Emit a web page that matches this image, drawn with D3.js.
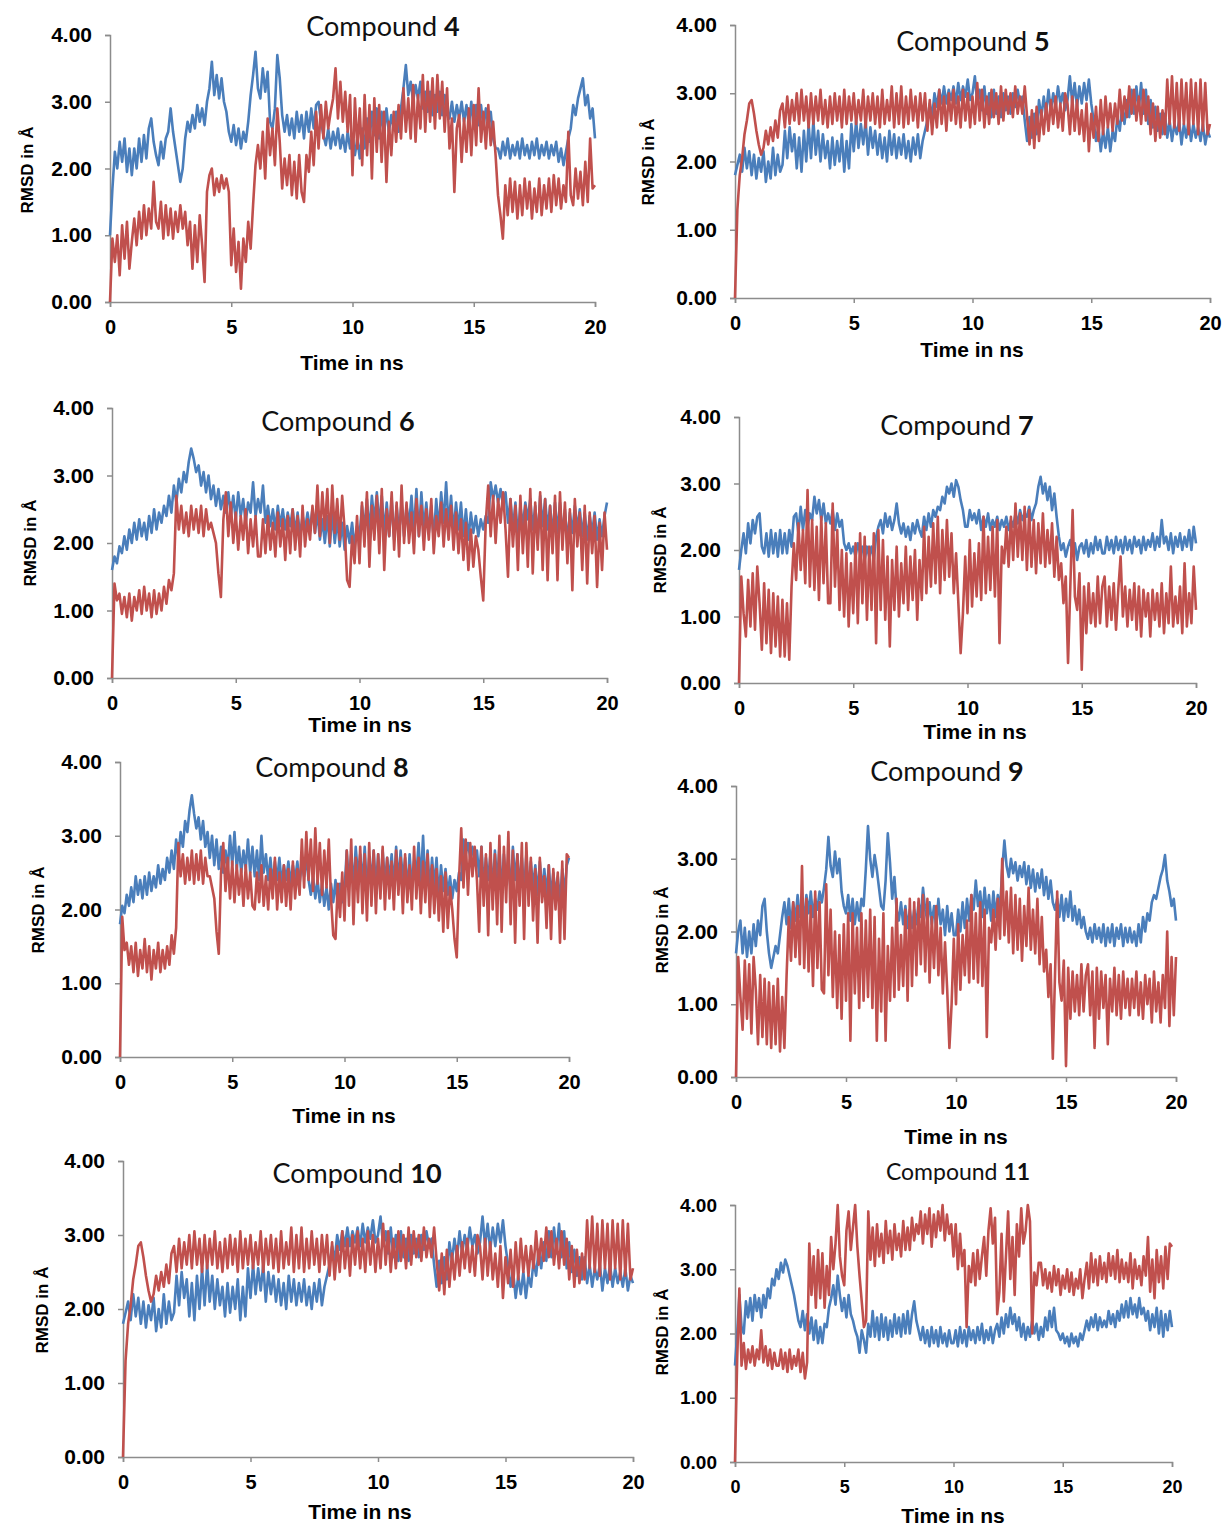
<!DOCTYPE html>
<html>
<head>
<meta charset="utf-8">
<script src="https://cdn.jsdelivr.net/npm/d3@7"></script>
<style>
  body { margin: 0; background: #fff; }
  svg { display: block; }
</style>
</head>
<body>
<svg id="chart" width="1225" height="1525"></svg>
<script>
// RMSD (Å) over 0–20 ns, one value every 0.1 ns (201 samples per trace)
const yTicks = [0, 1, 2, 3, 4];
const xTicks = [0, 5, 10, 15, 20];

const compound4Blue = [
  1.00, 1.70, 2.25, 2.00, 2.40, 2.10, 2.45, 1.95, 2.30, 1.90, 2.30, 2.00, 2.45, 2.10, 2.50, 2.15, 2.60, 2.75, 2.40, 2.20,
  2.05, 2.40, 2.15, 2.45, 2.55, 2.90, 2.55, 2.30, 2.05, 1.80, 2.00, 2.45, 2.70, 2.55, 2.80, 2.60, 2.95, 2.70, 2.90, 2.65,
  3.00, 3.20, 3.60, 3.10, 3.40, 3.05, 3.35, 3.00, 2.85, 2.55, 2.40, 2.65, 2.35, 2.60, 2.30, 2.55, 2.40, 2.70, 3.10, 3.40,
  3.75, 3.20, 3.05, 3.50, 3.15, 3.45, 2.70, 2.60, 2.90, 3.70, 3.35, 2.80, 2.55, 2.80, 2.50, 2.75, 2.45, 2.85, 2.55, 2.80,
  2.45, 2.85, 2.55, 2.90, 2.60, 2.95, 3.00, 2.70, 2.50, 2.35, 2.60, 2.30, 2.55, 2.35, 2.60, 2.30, 2.50, 2.25, 2.55, 2.30,
  2.50, 2.20, 2.45, 2.15, 2.60, 2.30, 2.75, 2.40, 2.85, 2.50, 2.90, 2.45, 2.85, 2.50, 2.90, 2.55, 2.80, 2.60, 2.85, 2.55,
  2.90, 3.20, 3.55, 3.10, 3.30, 3.00, 3.25, 3.05, 3.30, 2.90, 3.15, 2.85, 3.15, 2.80, 3.10, 2.85, 3.15, 2.80, 3.10, 2.85,
  2.75, 3.00, 2.70, 2.95, 2.75, 3.00, 2.70, 2.95, 2.65, 3.00, 2.60, 2.95, 2.65, 2.95, 2.60, 2.90, 2.65, 2.85, 2.45, 2.30,
  2.30, 2.15, 2.40, 2.20, 2.45, 2.15, 2.35, 2.20, 2.40, 2.15, 2.45, 2.20, 2.35, 2.15, 2.40, 2.20, 2.45, 2.15, 2.35, 2.20,
  2.40, 2.15, 2.35, 2.20, 2.40, 2.10, 2.30, 2.05, 2.25, 2.45, 2.60, 2.95, 2.80, 3.05, 3.20, 3.35, 2.95, 3.10, 2.75, 2.90,
  2.45
];
const compound4Red = [
  0.00, 0.95, 0.60, 1.00, 0.40, 1.15, 0.65, 1.20, 0.50, 0.90, 1.25, 0.85, 1.35, 0.95, 1.45, 1.00, 1.40, 1.10, 1.80, 1.20,
  1.10, 1.50, 0.95, 1.45, 1.00, 1.40, 0.95, 1.35, 1.05, 1.45, 1.10, 1.35, 0.85, 1.20, 0.50, 1.15, 0.60, 1.30, 0.85, 0.30,
  1.65, 1.90, 2.00, 1.60, 1.85, 1.65, 1.90, 1.70, 1.85, 1.65, 0.55, 1.10, 0.45, 0.90, 0.20, 0.95, 0.60, 1.20, 0.80, 1.45,
  2.05, 2.35, 2.00, 2.55, 1.85, 2.75, 2.20, 2.60, 2.05, 2.90, 2.40, 1.70, 2.15, 1.75, 2.20, 1.60, 2.10, 1.55, 2.20, 1.65,
  1.50, 2.20, 1.95, 2.55, 2.05, 2.85, 2.30, 2.95, 2.45, 3.00, 2.60, 2.85, 3.05, 3.50, 2.75, 3.30, 2.70, 3.15, 2.55, 3.10,
  1.90, 3.05, 2.30, 2.90, 2.05, 3.10, 2.20, 2.95, 1.85, 3.05, 2.25, 2.95, 2.10, 2.85, 1.80, 2.70, 2.20, 2.85, 2.40, 2.95,
  2.45, 3.20, 2.55, 3.05, 2.45, 3.25, 2.40, 3.10, 2.60, 3.40, 2.55, 3.30, 2.70, 3.35, 2.60, 3.40, 2.75, 3.30, 2.55, 3.20,
  2.30, 2.75, 1.65, 2.60, 2.80, 2.10, 2.75, 2.25, 2.90, 2.20, 2.95, 2.35, 3.20, 2.40, 2.85, 2.30, 2.95, 2.35, 2.70, 2.20,
  1.60, 1.30, 0.95, 1.75, 1.30, 1.85, 1.35, 1.80, 1.25, 1.75, 1.30, 1.85, 1.40, 1.80, 1.25, 1.70, 1.35, 1.85, 1.30, 1.75,
  1.40, 1.85, 1.35, 1.90, 1.45, 1.85, 1.40, 1.75, 1.50, 2.55, 1.60, 1.45, 2.00, 1.55, 1.95, 1.45, 2.10, 1.50, 2.45, 1.70,
  1.75
];

const compound5Blue = [
  1.80, 1.95, 2.10, 1.85, 2.20, 1.90, 2.15, 1.80, 2.10, 1.75, 2.05, 1.85, 2.15, 1.70, 2.00, 1.75, 2.20, 1.80, 2.10, 1.85,
  1.95, 2.45, 2.05, 2.50, 2.15, 2.40, 1.90, 2.35, 1.85, 2.45, 2.00, 2.55, 2.05, 2.60, 2.10, 2.45, 2.00, 2.40, 2.05, 2.30,
  1.90, 2.35, 1.95, 2.30, 2.00, 2.40, 1.85, 2.30, 1.90, 2.55, 2.15, 2.60, 2.20, 2.55, 2.25, 2.60, 2.10, 2.50, 2.20, 2.45,
  2.10, 2.40, 2.05, 2.35, 2.00, 2.45, 2.10, 2.40, 2.05, 2.35, 2.10, 2.40, 2.05, 2.30, 2.00, 2.35, 2.10, 2.40, 2.05, 2.30,
  2.45, 2.60, 2.85, 2.65, 3.00, 2.80, 3.05, 2.85, 3.10, 2.85, 3.05, 2.90, 3.10, 2.85, 3.15, 2.90, 3.10, 2.95, 3.20, 2.90,
  3.00, 3.25, 2.85, 3.05, 2.75, 3.10, 2.70, 3.00, 2.65, 3.05, 2.70, 2.95, 2.65, 3.00, 2.75, 2.95, 2.70, 3.00, 2.80, 3.05,
  2.85, 2.95, 2.60, 2.30, 2.65, 2.35, 2.70, 2.40, 2.90, 2.65, 2.95, 2.70, 3.05, 2.75, 3.00, 2.80, 3.10, 2.85, 3.00, 2.75,
  2.90, 3.25, 2.85, 3.15, 2.80, 3.10, 2.85, 3.15, 2.90, 3.20, 2.85, 2.60, 2.30, 2.50, 2.15, 2.45, 2.20, 2.50, 2.15, 2.45,
  2.30, 2.65, 2.45, 2.80, 2.55, 2.90, 2.65, 3.05, 2.70, 3.10, 2.75, 3.15, 2.70, 3.05, 2.55, 2.90, 2.50, 2.80, 2.45, 2.70,
  2.40, 2.70, 2.35, 2.60, 2.30, 2.55, 2.40, 2.60, 2.25, 2.55, 2.35, 2.60, 2.30, 2.55, 2.35, 2.50, 2.30, 2.55, 2.25, 2.45,
  2.35
];
const compound5Red = [
  0.00, 1.30, 1.80, 2.05, 2.40, 2.60, 2.85, 2.90, 2.70, 2.45, 2.25, 2.10, 2.20, 2.45, 2.25, 2.50, 2.30, 2.60, 2.35, 2.75,
  2.85, 2.50, 2.95, 2.55, 2.90, 2.60, 3.00, 2.55, 3.05, 2.60, 2.95, 2.50, 3.00, 2.55, 2.95, 2.60, 3.05, 2.55, 2.90, 2.50,
  2.95, 2.55, 3.00, 2.60, 2.95, 2.50, 3.05, 2.55, 2.95, 2.60, 3.00, 2.55, 2.90, 2.60, 3.05, 2.50, 2.95, 2.60, 3.00, 2.55,
  2.95, 2.50, 3.05, 2.55, 2.90, 2.60, 3.10, 2.50, 3.00, 2.55, 3.10, 2.50, 2.95, 2.55, 3.05, 2.60, 2.95, 2.50, 3.00, 2.60,
  3.00, 2.45, 2.90, 2.40, 2.85, 2.50, 3.05, 2.55, 2.95, 2.45, 3.00, 2.60, 3.05, 2.55, 2.95, 2.50, 3.05, 2.60, 3.00, 2.50,
  2.95, 2.55, 3.15, 2.60, 3.05, 2.50, 2.95, 2.55, 3.05, 2.65, 3.00, 2.55, 3.10, 2.60, 3.05, 2.70, 3.00, 2.65, 3.10, 2.70,
  2.95, 2.70, 3.10, 2.65, 2.25, 2.75, 2.20, 2.80, 2.30, 2.75, 2.40, 2.85, 2.45, 2.90, 2.55, 2.95, 2.50, 2.85, 2.45, 3.00,
  2.85, 2.40, 2.95, 2.45, 2.90, 2.40, 2.75, 2.30, 2.85, 2.15, 2.70, 2.35, 2.80, 2.30, 2.90, 2.40, 2.95, 2.50, 2.85, 2.45,
  2.85, 2.55, 3.05, 2.60, 2.95, 2.65, 3.10, 2.70, 3.05, 2.60, 2.95, 2.55, 3.05, 2.60, 2.95, 2.40, 2.85, 2.30, 2.80, 2.35,
  2.75, 2.40, 3.20, 2.55, 3.25, 2.50, 3.15, 2.45, 3.20, 2.55, 3.15, 2.40, 3.20, 2.55, 3.15, 2.40, 3.20, 2.45, 3.15, 2.40,
  2.55
];

const compound6Blue = [
  1.60, 1.80, 1.70, 1.95, 1.85, 2.10, 1.90, 2.20, 2.00, 2.30, 2.05, 2.35, 2.10, 2.30, 2.05, 2.40, 2.15, 2.50, 2.20, 2.45,
  2.30, 2.55, 2.40, 2.70, 2.45, 2.85, 2.60, 2.95, 2.75, 3.05, 2.90, 3.20, 3.40, 3.25, 3.05, 3.15, 2.85, 3.05, 2.75, 3.00,
  2.65, 2.85, 2.55, 2.80, 2.50, 2.70, 2.45, 2.75, 2.40, 2.70, 2.35, 2.75, 2.40, 2.65, 2.30, 2.60, 2.45, 2.90, 2.40, 2.65,
  2.45, 2.85, 2.30, 2.55, 2.25, 2.50, 2.20, 2.55, 2.25, 2.50, 2.20, 2.45, 2.25, 2.50, 2.15, 2.45, 2.10, 2.40, 2.20, 2.45,
  2.20, 2.50, 2.15, 2.45, 2.05, 2.35, 2.00, 2.40, 1.95, 2.45, 2.00, 2.35, 1.95, 2.30, 1.90, 2.25, 2.00, 2.30, 1.95, 2.25,
  2.10, 2.55, 2.20, 2.65, 2.15, 2.70, 2.30, 2.75, 2.25, 2.70, 2.15, 2.60, 2.10, 2.65, 2.05, 2.55, 2.15, 2.60, 2.10, 2.55,
  2.25, 2.70, 2.15, 2.80, 2.10, 2.75, 2.20, 2.60, 2.15, 2.55, 2.05, 2.65, 2.20, 2.75, 2.30, 2.90, 2.25, 2.70, 2.15, 2.60,
  2.20, 2.60, 2.10, 2.50, 2.05, 2.45, 2.15, 2.40, 2.10, 2.35, 2.20, 2.40, 2.30, 2.90, 2.65, 2.85, 2.60, 2.80, 2.55, 2.75,
  2.30, 2.65, 2.20, 2.60, 2.10, 2.55, 2.25, 2.60, 2.35, 2.65, 2.20, 2.55, 2.05, 2.70, 2.25, 2.65, 2.20, 2.55, 2.10, 2.60,
  2.15, 2.60, 2.10, 2.50, 2.00, 2.45, 2.15, 2.55, 2.20, 2.50, 2.10, 2.45, 2.05, 2.40, 2.15, 2.45, 2.05, 2.35, 2.10, 2.40,
  2.60
];
const compound6Red = [
  0.00, 1.40, 1.15, 1.25, 0.95, 1.20, 0.90, 1.25, 0.85, 1.20, 1.00, 1.30, 0.95, 1.35, 1.00, 1.25, 0.90, 1.30, 0.95, 1.25,
  1.00, 1.35, 1.10, 1.45, 1.30, 1.55, 2.70, 2.20, 2.55, 2.15, 2.45, 2.10, 2.55, 2.20, 2.50, 2.15, 2.55, 2.10, 2.50, 2.20,
  2.30, 2.15, 2.00, 1.55, 1.20, 2.35, 2.75, 2.10, 2.60, 2.00, 2.45, 1.90, 2.40, 2.05, 2.50, 1.85, 2.35, 1.95, 2.40, 1.80,
  1.80, 2.35, 1.85, 2.40, 1.90, 2.30, 1.80, 2.45, 1.95, 2.35, 1.75, 2.40, 1.85, 2.50, 1.90, 2.40, 1.80, 2.55, 1.95, 2.35,
  2.05, 2.55, 2.15, 2.85, 2.10, 2.75, 2.20, 2.80, 2.00, 2.85, 2.15, 2.65, 2.05, 2.70, 2.20, 1.45, 1.35, 2.10, 1.70, 2.40,
  1.70, 2.60, 1.95, 2.75, 1.65, 2.55, 2.05, 2.70, 1.85, 2.80, 1.60, 2.50, 2.10, 2.75, 1.90, 2.60, 1.80, 2.85, 2.00, 2.60,
  2.00, 2.45, 1.85, 2.65, 2.10, 2.55, 1.90, 2.50, 2.05, 2.65, 1.85, 2.40, 2.10, 2.60, 1.95, 2.50, 2.05, 2.55, 1.90, 2.45,
  1.85, 2.35, 1.75, 2.30, 1.60, 2.20, 1.65, 2.10, 1.90, 1.50, 1.15, 2.30, 2.85, 2.10, 2.70, 2.00, 2.65, 2.30, 2.75, 2.20,
  1.50, 2.65, 1.95, 2.55, 1.60, 2.70, 1.85, 2.55, 1.65, 2.80, 1.55, 2.60, 1.90, 2.75, 1.60, 2.65, 1.45, 2.55, 1.85, 2.70,
  1.45, 2.75, 1.90, 2.60, 1.70, 2.50, 1.30, 2.65, 1.95, 2.45, 1.60, 2.55, 1.40, 2.45, 1.85, 2.40, 1.35, 2.30, 1.60, 2.45,
  1.90
];

const compound7Blue = [
  1.70, 2.00, 2.25, 1.95, 2.40, 2.10, 2.45, 2.25, 2.50, 2.55, 2.05, 1.95, 2.25, 1.90, 2.30, 1.95, 2.25, 1.90, 2.30, 1.95,
  2.25, 1.95, 2.30, 2.05, 2.50, 2.55, 2.25, 2.65, 2.30, 2.60, 2.35, 2.55, 2.45, 2.80, 2.55, 2.75, 2.45, 2.70, 2.40, 2.55,
  2.40, 2.60, 2.30, 2.55, 2.35, 2.45, 2.10, 2.00, 2.10, 1.95, 2.05, 1.90, 2.10, 1.95, 2.05, 1.85, 2.05, 1.90, 2.05, 1.85,
  2.20, 2.35, 2.45, 2.25, 2.55, 2.35, 2.50, 2.30, 2.45, 2.70, 2.40, 2.25, 2.40, 2.20, 2.35, 2.15, 2.40, 2.25, 2.45, 2.30,
  2.20, 2.50, 2.30, 2.55, 2.35, 2.60, 2.50, 2.65, 2.60, 2.80, 2.70, 2.95, 2.85, 3.00, 2.80, 3.05, 2.95, 2.75, 2.60, 2.35,
  2.35, 2.60, 2.45, 2.55, 2.40, 2.60, 2.30, 2.50, 2.35, 2.55, 2.30, 2.45, 2.35, 2.50, 2.30, 2.45, 2.35, 2.50, 2.30, 2.45,
  2.35, 2.55, 2.40, 2.60, 2.45, 2.55, 2.50, 2.65, 2.45, 2.60, 2.70, 2.95, 3.10, 2.85, 3.00, 2.75, 2.95, 2.60, 2.85, 2.50,
  2.20, 2.00, 2.10, 1.90, 2.05, 2.15, 1.95, 2.10, 1.85, 2.05, 2.10, 1.95, 2.15, 1.90, 2.10, 1.95, 2.20, 2.00, 2.15, 1.95,
  1.95, 2.20, 2.00, 2.15, 1.95, 2.20, 2.00, 2.15, 1.95, 2.20, 2.00, 2.15, 1.95, 2.20, 2.05, 2.15, 1.95, 2.20, 2.00, 2.15,
  2.05, 2.25, 2.00, 2.20, 2.05, 2.45, 2.10, 2.20, 2.00, 2.25, 1.95, 2.20, 2.05, 2.25, 2.00, 2.20, 2.05, 2.30, 2.00, 2.35,
  2.10
];
const compound7Red = [
  0.00, 1.60, 1.05, 0.70, 1.55, 0.85, 1.65, 0.80, 1.75, 1.20, 0.50, 1.50, 0.60, 1.40, 0.45, 1.35, 0.55, 1.30, 0.40, 1.25,
  0.40, 1.20, 0.35, 1.45, 2.10, 1.55, 2.40, 1.70, 2.30, 1.50, 2.90, 1.45, 2.45, 1.40, 2.35, 1.25, 2.50, 1.50, 2.40, 1.20,
  1.20, 2.70, 1.45, 2.30, 1.10, 2.00, 1.00, 1.95, 0.85, 1.80, 1.05, 2.10, 0.90, 2.25, 1.20, 2.20, 0.95, 2.05, 1.10, 2.25,
  0.60, 2.30, 1.10, 2.15, 0.95, 1.90, 0.55, 1.85, 1.10, 2.05, 1.00, 1.80, 1.20, 2.05, 1.10, 1.90, 1.25, 2.00, 0.95, 1.85,
  1.25, 2.35, 1.35, 2.20, 1.45, 2.40, 1.50, 2.50, 1.35, 2.30, 1.55, 2.45, 1.60, 2.25, 1.35, 1.95, 1.20, 0.45, 1.05, 1.90,
  1.05, 2.15, 1.15, 1.95, 1.30, 2.10, 1.25, 2.50, 1.35, 2.20, 1.40, 2.35, 1.30, 2.45, 0.60, 2.05, 1.80, 2.35, 1.75, 2.50,
  1.85, 2.70, 1.90, 2.55, 1.85, 2.65, 1.70, 2.60, 1.75, 2.45, 1.65, 2.40, 1.80, 2.55, 1.75, 2.30, 1.80, 2.40, 1.60, 2.20,
  1.55, 1.80, 1.20, 1.60, 0.30, 1.45, 2.60, 1.30, 1.10, 1.65, 0.20, 1.45, 0.75, 1.50, 0.90, 1.35, 0.85, 1.60, 0.90, 1.45,
  1.60, 0.85, 1.45, 0.95, 1.50, 0.80, 1.40, 1.90, 1.00, 1.45, 0.85, 1.40, 0.95, 1.50, 0.80, 1.45, 0.70, 1.40, 1.00, 1.35,
  0.70, 1.40, 0.95, 1.35, 0.85, 1.50, 0.75, 1.35, 0.90, 1.75, 0.85, 1.30, 0.90, 1.45, 0.75, 1.80, 0.85, 1.35, 0.90, 1.75,
  1.10
];

const compound8Blue = [
  1.80, 2.05, 1.95, 2.20, 2.05, 2.30, 2.10, 2.45, 2.20, 2.40, 2.15, 2.45, 2.20, 2.50, 2.25, 2.45, 2.30, 2.60, 2.35, 2.55,
  2.40, 2.70, 2.50, 2.80, 2.55, 2.95, 2.70, 3.05, 2.85, 3.20, 3.05, 3.35, 3.55, 3.30, 3.10, 3.25, 2.95, 3.20, 2.85, 3.05,
  2.70, 3.00, 2.60, 2.95, 2.55, 2.85, 2.50, 2.80, 2.55, 3.00, 2.60, 3.05, 2.55, 2.85, 2.50, 2.80, 2.55, 2.95, 2.50, 2.85,
  2.45, 2.80, 2.40, 3.00, 2.50, 2.75, 2.40, 2.70, 2.35, 2.65, 2.40, 2.70, 2.35, 2.60, 2.40, 2.65, 2.35, 2.60, 2.40, 2.65,
  2.35, 2.65, 2.45, 2.70, 2.40, 2.20, 2.45, 2.15, 2.40, 2.10, 2.35, 2.05, 2.30, 2.00, 2.35, 2.10, 2.40, 2.05, 2.35, 2.10,
  2.25, 2.80, 2.35, 2.75, 2.30, 2.85, 2.45, 2.75, 2.35, 2.85, 2.25, 2.70, 2.40, 2.80, 2.30, 2.75, 2.25, 2.80, 2.35, 2.70,
  2.40, 2.75, 2.30, 2.85, 2.35, 2.80, 2.40, 2.70, 2.25, 2.75, 2.30, 2.65, 2.45, 2.90, 2.35, 3.00, 2.30, 2.80, 2.25, 2.70,
  2.30, 2.70, 2.15, 2.60, 2.25, 2.55, 2.20, 2.45, 2.15, 2.40, 2.25, 2.50, 2.40, 2.95, 2.75, 2.90, 2.70, 2.85, 2.60, 2.80,
  2.45, 2.85, 2.30, 2.70, 2.40, 2.75, 2.25, 2.80, 2.35, 2.85, 2.20, 2.75, 2.35, 2.70, 2.25, 2.85, 2.40, 2.75, 2.30, 2.70,
  2.25, 2.75, 2.20, 2.65, 2.30, 2.60, 2.20, 2.65, 2.25, 2.55, 2.20, 2.60, 2.15, 2.50, 2.20, 2.45, 2.10, 2.55, 2.20, 2.60,
  2.70
];
const compound8Red = [
  0.00, 1.90, 1.45, 1.55, 1.25, 1.50, 1.15, 1.55, 1.10, 1.45, 1.20, 1.60, 1.15, 1.50, 1.05, 1.45, 1.20, 1.55, 1.15, 1.45,
  1.20, 1.50, 1.25, 1.65, 1.40, 1.75, 2.90, 2.45, 2.75, 2.35, 2.70, 2.40, 2.80, 2.35, 2.75, 2.40, 2.80, 2.35, 2.70, 2.45,
  2.45, 2.30, 2.15, 1.70, 1.40, 2.50, 2.90, 2.25, 2.70, 2.15, 2.65, 2.10, 2.60, 2.20, 2.55, 2.05, 2.60, 2.15, 2.50, 2.05,
  2.00, 2.50, 2.10, 2.60, 2.05, 2.45, 2.00, 2.55, 2.15, 2.70, 2.00, 2.50, 2.10, 2.60, 2.05, 2.55, 2.00, 2.65, 2.15, 2.55,
  2.20, 2.95, 2.30, 3.05, 2.40, 2.95, 2.25, 3.10, 2.35, 2.90, 2.20, 2.80, 2.30, 2.95, 2.15, 1.65, 1.60, 2.35, 1.90, 2.50,
  1.85, 2.80, 2.05, 2.95, 1.80, 2.70, 2.10, 2.85, 1.95, 2.75, 1.85, 2.90, 2.05, 2.80, 1.95, 2.75, 2.15, 2.85, 2.00, 2.70,
  2.15, 2.65, 2.00, 2.80, 2.20, 2.70, 1.95, 2.75, 2.10, 2.60, 2.00, 2.85, 2.15, 2.70, 1.95, 2.65, 2.10, 2.75, 1.90, 2.60,
  1.95, 2.55, 1.85, 2.45, 1.70, 2.50, 1.75, 2.30, 2.00, 1.60, 1.35, 2.40, 3.10, 2.30, 2.95, 2.20, 2.90, 2.45, 2.85, 2.40,
  1.70, 2.85, 2.05, 2.75, 1.65, 2.90, 2.00, 2.75, 1.80, 3.00, 1.70, 2.85, 2.10, 3.05, 1.80, 2.80, 1.55, 2.75, 2.05, 2.90,
  1.60, 2.90, 2.05, 2.70, 1.85, 2.55, 1.55, 2.70, 2.10, 2.45, 1.75, 2.60, 1.60, 2.55, 2.00, 2.50, 1.55, 2.65, 1.60, 2.75,
  2.70
];

const compound9Blue = [
  1.70, 2.00, 2.15, 1.70, 2.05, 1.65, 2.00, 1.70, 2.10, 1.80, 2.15, 1.95, 2.35, 2.45, 2.00, 1.70, 1.50, 1.65, 1.80, 1.70,
  1.95, 2.20, 2.40, 2.10, 2.45, 2.05, 2.40, 2.15, 2.50, 2.20, 2.45, 2.15, 2.50, 2.25, 2.55, 2.20, 2.45, 2.30, 2.55, 2.40,
  2.60, 2.85, 3.30, 2.90, 2.75, 3.10, 2.80, 3.00, 2.55, 2.35, 2.25, 2.50, 2.15, 2.45, 2.10, 2.40, 2.15, 2.45, 2.35, 2.85,
  3.45, 3.00, 2.75, 3.05, 2.85, 2.60, 2.35, 2.30, 2.70, 3.35, 2.95, 2.45, 2.75, 2.30, 2.15, 2.40, 2.10, 2.35, 2.05, 2.30,
  2.05, 2.30, 2.10, 2.40, 2.20, 2.60, 2.30, 2.15, 2.40, 2.10, 2.35, 2.05, 2.45, 2.10, 2.30, 1.95, 2.35, 2.00, 2.25, 1.95,
  1.95, 2.30, 2.00, 2.40, 2.05, 2.45, 2.15, 2.50, 2.30, 2.70, 2.35, 2.55, 2.20, 2.60, 2.25, 2.50, 2.15, 2.55, 2.20, 2.50,
  2.30, 2.85, 3.25, 2.90, 2.75, 3.00, 2.80, 2.95, 2.70, 2.90, 2.75, 2.95, 2.65, 2.90, 2.60, 2.85, 2.55, 2.80, 2.60, 2.85,
  2.50, 2.75, 2.45, 2.70, 2.40, 2.30, 2.45, 2.20, 2.50, 2.15, 2.45, 2.20, 2.55, 2.15, 2.35, 2.10, 2.30, 2.05, 2.20, 2.00,
  1.90, 2.05, 1.85, 2.10, 1.90, 2.05, 1.85, 2.10, 1.80, 2.05, 1.85, 2.10, 1.80, 2.05, 1.90, 2.10, 1.80, 2.05, 1.85, 2.05,
  1.85, 2.00, 1.80, 2.10, 1.85, 2.20, 2.00, 2.25, 2.15, 2.40, 2.50, 2.45, 2.60, 2.75, 2.85, 3.05, 2.70, 2.55, 2.35, 2.45,
  2.15
];
const compound9Red = [
  0.00, 1.65, 1.10, 0.65, 1.60, 0.80, 1.55, 0.60, 1.65, 1.20, 0.45, 1.40, 0.55, 1.35, 0.45, 1.30, 0.40, 1.25, 0.45, 1.35,
  0.35, 1.10, 0.40, 1.40, 2.20, 1.60, 2.40, 1.65, 2.35, 1.55, 2.90, 1.50, 2.45, 1.45, 2.35, 1.25, 2.55, 1.50, 2.40, 1.20,
  1.15, 2.65, 1.40, 2.30, 1.10, 2.00, 0.95, 1.95, 0.80, 2.10, 1.05, 2.25, 0.50, 2.25, 1.15, 2.05, 0.95, 2.25, 1.05, 2.15,
  1.10, 2.30, 0.95, 2.20, 0.50, 1.90, 0.90, 2.25, 0.50, 1.80, 1.05, 2.05, 1.10, 2.45, 1.20, 1.95, 1.25, 2.30, 1.05, 2.45,
  1.25, 2.40, 1.40, 2.45, 1.55, 2.50, 1.45, 2.45, 1.30, 2.20, 1.50, 2.35, 1.40, 2.05, 1.15, 1.85, 1.20, 0.40, 1.00, 1.90,
  1.00, 2.10, 1.20, 1.95, 1.40, 2.15, 1.30, 2.50, 1.35, 2.25, 1.30, 2.40, 1.25, 2.30, 0.55, 2.05, 1.85, 2.30, 1.75, 2.45,
  1.90, 3.00, 1.95, 2.55, 1.85, 2.60, 1.70, 2.50, 1.75, 2.45, 1.60, 2.35, 1.80, 2.60, 1.75, 2.30, 1.70, 2.45, 1.55, 2.20,
  1.45, 1.75, 1.10, 1.55, 0.25, 1.40, 2.55, 1.30, 1.05, 1.60, 0.15, 1.50, 0.80, 1.45, 0.90, 1.40, 0.85, 1.55, 0.90, 1.40,
  1.55, 0.85, 1.45, 0.40, 1.50, 0.80, 1.45, 0.95, 1.40, 0.45, 1.35, 0.90, 1.50, 0.85, 1.40, 0.80, 1.45, 0.95, 1.35, 0.85,
  1.35, 0.95, 1.45, 0.85, 1.30, 0.80, 1.40, 1.00, 1.35, 0.75, 1.45, 0.90, 1.30, 0.75, 1.40, 0.95, 2.00, 0.70, 1.65, 0.85,
  1.65
];

// compound 10 shows the same traces as compound 5
const compound10Blue = compound5Blue;
const compound10Red = compound5Red;

const compound11Blue = [
  1.50, 2.00, 2.60, 2.10, 2.00, 2.50, 2.25, 2.55, 2.20, 2.60, 2.35, 2.55, 2.25, 2.60, 2.40, 2.70, 2.55, 2.85, 2.75, 3.00,
  2.85, 3.10, 2.95, 3.15, 3.05, 2.90, 2.75, 2.60, 2.40, 2.20, 2.10, 2.35, 2.05, 2.30, 2.00, 2.25, 1.90, 2.20, 1.85, 2.10,
  1.85, 2.15, 2.10, 2.40, 2.55, 2.75, 2.45, 2.90, 2.60, 2.35, 2.55, 2.25, 2.60, 2.30, 2.20, 2.05, 1.95, 1.70, 2.05, 1.90,
  1.70, 2.15, 1.95, 2.35, 1.95, 2.25, 1.90, 2.30, 1.95, 2.25, 1.90, 2.20, 1.95, 2.30, 2.00, 2.25, 1.95, 2.30, 2.00, 2.35,
  2.00, 2.30, 2.50, 2.20, 2.05, 1.90, 2.10, 1.85, 2.05, 1.80, 2.10, 1.85, 2.05, 1.80, 2.10, 1.85, 2.00, 1.80, 2.05, 1.85,
  1.85, 2.05, 1.80, 2.10, 1.85, 2.05, 1.80, 2.10, 1.90, 2.05, 1.85, 2.10, 1.90, 2.15, 1.85, 2.05, 1.90, 2.10, 1.85, 2.05,
  2.15, 1.95, 2.25, 2.00, 2.30, 2.10, 2.40, 2.15, 2.30, 2.05, 2.25, 1.95, 2.15, 1.90, 2.10, 1.95, 2.20, 2.00, 2.15, 1.90,
  2.10, 1.95, 2.25, 2.05, 2.35, 2.10, 2.40, 2.05, 2.00, 1.90, 2.00, 1.85, 1.95, 1.80, 2.00, 1.85, 1.95, 1.80, 2.00, 1.90,
  2.05, 2.20, 2.05, 2.25, 2.10, 2.30, 2.05, 2.25, 2.10, 2.20, 2.10, 2.35, 2.15, 2.30, 2.10, 2.35, 2.20, 2.45, 2.25, 2.50,
  2.25, 2.55, 2.30, 2.45, 2.25, 2.55, 2.30, 2.40, 2.20, 2.35, 2.05, 2.30, 2.10, 2.40, 2.00, 2.35, 1.95, 2.30, 2.05, 2.35,
  2.10
];
const compound11Red = [
  0.00, 1.60, 2.70, 1.50, 1.85, 1.45, 1.75, 1.55, 1.80, 1.50, 1.75, 1.60, 2.05, 1.55, 1.80, 1.50, 1.75, 1.45, 1.70, 1.50,
  1.50, 1.75, 1.45, 1.70, 1.40, 1.75, 1.45, 1.65, 1.50, 1.75, 1.40, 1.70, 1.30, 1.55, 3.40, 2.60, 3.20, 2.40, 3.30, 2.55,
  3.25, 2.40, 3.05, 2.60, 3.50, 3.00, 3.40, 4.00, 3.20, 2.90, 2.75, 3.60, 3.90, 3.30, 3.65, 4.00, 3.35, 2.90, 2.50, 2.10,
  2.20, 3.90, 3.15, 3.65, 3.05, 3.70, 3.20, 3.55, 3.10, 3.75, 3.25, 3.60, 3.15, 3.70, 3.30, 3.55, 3.20, 3.75, 3.30, 3.65,
  3.30, 3.80, 3.45, 3.70, 3.55, 3.90, 3.40, 3.85, 3.55, 3.95, 3.35, 3.85, 3.50, 3.90, 3.60, 4.00, 3.45, 3.85, 3.55, 3.70,
  3.20, 3.70, 3.00, 3.55, 3.05, 3.30, 2.10, 3.05, 2.80, 3.25, 2.75, 3.30, 2.85, 3.20, 3.50, 2.90, 3.60, 3.95, 3.40, 3.80,
  2.30, 2.65, 3.55, 2.50, 3.20, 3.90, 2.85, 3.50, 2.60, 3.70, 3.20, 3.95, 3.40, 3.60, 4.00, 3.75, 2.00, 2.95, 2.75, 3.10,
  3.10, 2.75, 3.00, 2.70, 2.95, 2.65, 3.05, 2.75, 3.00, 2.60, 2.90, 2.70, 3.00, 2.65, 2.95, 2.60, 2.85, 2.70, 3.00, 2.55,
  2.85, 3.10, 2.70, 3.25, 2.80, 3.15, 2.75, 3.20, 2.85, 3.10, 2.80, 3.25, 2.90, 3.20, 2.85, 3.30, 2.80, 3.15, 2.85, 3.10,
  2.80, 3.25, 2.70, 3.15, 2.85, 3.05, 2.75, 3.20, 2.90, 3.50, 2.65, 3.15, 2.55, 3.30, 2.80, 3.20, 2.70, 3.35, 2.85, 3.40,
  3.35
];

const blueColor = "#4a7ebb";
const redColor = "#c0504d";
const axisColor = "#8c8c8c";

// panel layout: plot box in page pixels and label positions
const panels = [
  { num: "4",  blue: compound4Blue,  red: compound4Red,  x0: 110, x1: 595,  yb: 302,  yt: 35,   tx: 383, ty: 25,   lx: 352, ly: 362,  rx: 27,  ry: 170,  fs: 20, ts: 27 },
  { num: "5",  blue: compound5Blue,  red: compound5Red,  x0: 735, x1: 1210, yb: 298,  yt: 25,   tx: 973, ty: 40,   lx: 972, ly: 349,  rx: 648, ry: 162,  fs: 20, ts: 27 },
  { num: "6",  blue: compound6Blue,  red: compound6Red,  x0: 112, x1: 607,  yb: 678,  yt: 408,  tx: 338, ty: 420,  lx: 360, ly: 724,  rx: 30,  ry: 543,  fs: 20, ts: 27 },
  { num: "7",  blue: compound7Blue,  red: compound7Red,  x0: 739, x1: 1196, yb: 683,  yt: 417,  tx: 957, ty: 424,  lx: 975, ly: 731,  rx: 660, ry: 550,  fs: 20, ts: 27 },
  { num: "8",  blue: compound8Blue,  red: compound8Red,  x0: 120, x1: 569,  yb: 1057, yt: 762,  tx: 332, ty: 766,  lx: 344, ly: 1115, rx: 38,  ry: 910,  fs: 20, ts: 27 },
  { num: "9",  blue: compound9Blue,  red: compound9Red,  x0: 736, x1: 1176, yb: 1077, yt: 786,  tx: 947, ty: 770,  lx: 956, ly: 1136, rx: 662, ry: 930,  fs: 20, ts: 27 },
  { num: "10", blue: compound10Blue, red: compound10Red, x0: 123, x1: 633,  yb: 1457, yt: 1161, tx: 357, ty: 1172, lx: 360, ly: 1511, rx: 42,  ry: 1310, fs: 20, ts: 27 },
  { num: "11", blue: compound11Blue, red: compound11Red, x0: 735, x1: 1172, yb: 1462, yt: 1205, tx: 958, ty: 1171, lx: 953, ly: 1515, rx: 662, ry: 1332, fs: 18, ts: 23 },
];

const svg = d3.select("#chart");

panels.forEach((p) => {
  const g = svg.append("g");

  const x = d3.scaleLinear().domain([0, 20]).range([p.x0, p.x1]);
  const y = d3.scaleLinear().domain([0, 4]).range([p.yb, p.yt]);

  // axes
  const yAxis = g.append("g")
    .attr("transform", `translate(${p.x0},0)`)
    .call(d3.axisLeft(y).tickValues(yTicks).tickFormat(d3.format(".2f")).tickSize(5).tickPadding(13));
  const xAxis = g.append("g")
    .attr("transform", `translate(0,${p.yb})`)
    .call(d3.axisBottom(x).tickValues(xTicks).tickSize(5).tickPadding(13));

  [xAxis, yAxis].forEach((a) => {
    a.selectAll("path, line").attr("stroke", axisColor).attr("stroke-width", 1.5);
    a.selectAll("text")
      .attr("fill", "#000")
      .style("font-family", "'Liberation Sans', Arial, sans-serif")
      .style("font-weight", "bold");
  });
  yAxis.selectAll("text").style("font-size", (p.fs + 1) + "px");
  xAxis.selectAll("text").style("font-size", p.fs + "px");

  // traces, uniform time grid 0..20 ns
  const line = (vals) => d3.line()
    .x((d, i) => x((i * 20) / (vals.length - 1)))
    .y((d) => y(d))(vals);

  g.append("path")
    .attr("d", line(p.blue))
    .attr("fill", "none")
    .attr("stroke", blueColor)
    .attr("stroke-width", 2.6)
    .attr("stroke-linejoin", "round");

  g.append("path")
    .attr("d", line(p.red))
    .attr("fill", "none")
    .attr("stroke", redColor)
    .attr("stroke-width", 2.6)
    .attr("stroke-linejoin", "round");

  // title
  const t = g.append("text")
    .attr("x", p.tx)
    .attr("y", p.ty)
    .attr("text-anchor", "middle")
    .attr("dominant-baseline", "central")
    .style("font-family", "Lato, 'Open Sans', sans-serif")
    .style("font-size", p.ts + "px")
    .attr("fill", "#111");
  t.append("tspan").text("Compound ");
  t.append("tspan").style("font-weight", "bold").text(p.num);

  // axis titles
  g.append("text")
    .attr("x", p.lx)
    .attr("y", p.ly)
    .attr("text-anchor", "middle")
    .attr("dominant-baseline", "central")
    .style("font-family", "'Liberation Sans', Arial, sans-serif")
    .style("font-weight", "bold")
    .style("font-size", "21px")
    .text("Time in ns");

  g.append("text")
    .attr("transform", `translate(${p.rx},${p.ry}) rotate(-90)`)
    .attr("text-anchor", "middle")
    .attr("dominant-baseline", "central")
    .style("font-family", "'Liberation Sans', Arial, sans-serif")
    .style("font-weight", "bold")
    .style("font-size", "17px")
    .text("RMSD in Å");
});
</script>
</body>
</html>
